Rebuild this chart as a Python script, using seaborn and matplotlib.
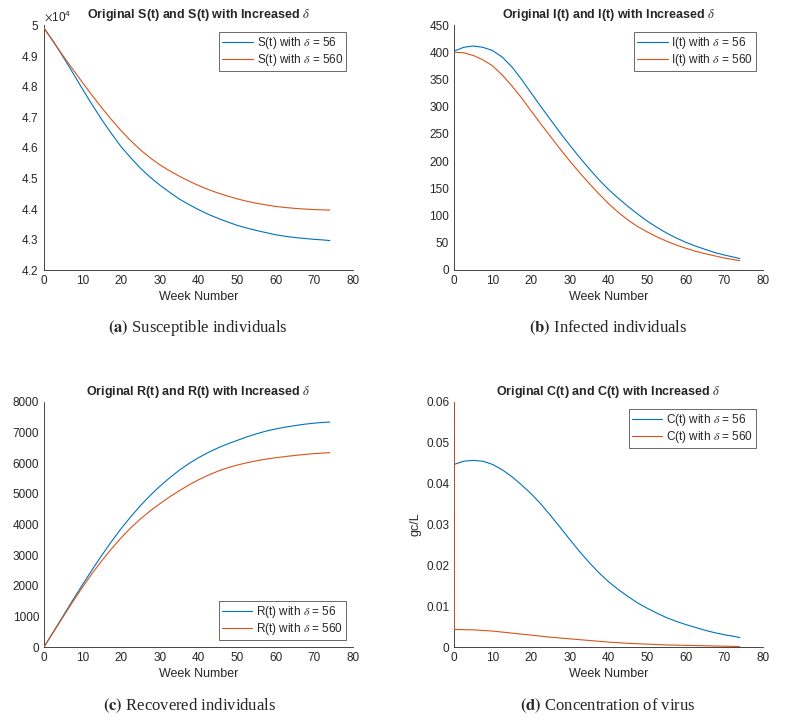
import numpy as np
import pandas as pd
import seaborn as sns
import matplotlib.pyplot as plt
from matplotlib.ticker import ScalarFormatter

# week numbers the curves were read at
weeks = [0, 2.5, 5, 7.5, 10, 12.5, 15, 17.5, 20, 22.5, 25, 27.5, 30, 32.5, 35, 37.5,
         40, 42.5, 45, 47.5, 50, 52.5, 55, 57.5, 60, 62.5, 65, 67.5, 70, 72.5, 74]

s_56 = [49900, 49450, 48950, 48430, 47900, 47390, 46900, 46450, 46020, 45660, 45320, 45030,
        44770, 44540, 44320, 44140, 43970, 43820, 43690, 43570, 43460, 43370, 43290, 43220,
        43150, 43100, 43060, 43030, 43000, 42980, 42960]
s_560 = [49900, 49435, 48985, 48545, 48115, 47695, 47290, 46905, 46545, 46215, 45920, 45660,
         45435, 45240, 45065, 44905, 44760, 44630, 44515, 44415, 44325, 44245, 44180, 44125,
         44075, 44040, 44012, 43990, 43973, 43961, 43956]

i_56 = [402, 409, 411.5, 409, 403, 391, 373, 350, 325, 300, 276, 252, 229, 207, 186, 166,
        148, 132, 117, 103, 90, 78.5, 68, 59, 51, 44, 38, 32, 27.5, 23.5, 21]
i_560 = [400, 399, 394, 386, 375, 358, 338, 316, 292, 268, 245, 222, 200, 179, 159, 140,
         122, 106, 92, 80, 70, 61, 53, 46, 40, 34.5, 30, 26, 22, 19, 17]

r_56 = [0, 510, 1025, 1540, 2040, 2530, 3000, 3450, 3870, 4260, 4620, 4950, 5250, 5520, 5770,
        5990, 6180, 6350, 6500, 6630, 6745, 6860, 6960, 7050, 7120, 7180, 7230, 7275, 7310,
        7335, 7345]
r_560 = [0, 500, 995, 1485, 1960, 2410, 2825, 3210, 3570, 3895, 4185, 4445, 4680, 4900, 5100,
         5290, 5460, 5610, 5740, 5850, 5940, 6015, 6080, 6135, 6180, 6220, 6255, 6288, 6315,
         6335, 6345]

c_56 = [0.0447, 0.0455, 0.0457, 0.0455, 0.0447, 0.0434, 0.0417, 0.0397, 0.0375, 0.035, 0.0322,
        0.0293, 0.0263, 0.0234, 0.0207, 0.0182, 0.0160, 0.0141, 0.0124, 0.0108, 0.0095, 0.0083,
        0.0072, 0.0063, 0.0055, 0.0048, 0.0041, 0.0035, 0.003, 0.0026, 0.0023]
# delta = 560 concentration starts far above the axis, then drops at once
c_560_weeks = [0, 0.08, 5, 10, 15, 20, 25, 30, 35, 40, 45, 50, 55, 60, 65, 70, 74]
c_560 = [0.08, 0.0043, 0.0042, 0.0039, 0.0034, 0.0029, 0.0024, 0.002, 0.0016, 0.0012, 0.0009,
         0.0007, 0.0005, 0.0004, 0.0003, 0.0002, 0.0001]

blue = '#0072BD'
orange = '#D95319'
grey = '#262626'


class TrimFormatter(ScalarFormatter):
    # matlab style: 5 rather than 5.0
    def __call__(self, x, pos=None):
        s = super().__call__(x, pos)
        return s.replace('5.0', '5')


def long_form(name, x1, y1, x2, y2):
    a = pd.DataFrame({'week': x1, 'value': y1, 'series': f'{name}(t) with $\\delta$ = 56'})
    b = pd.DataFrame({'week': x2, 'value': y2, 'series': f'{name}(t) with $\\delta$ = 560'})
    return pd.concat([a, b], ignore_index=True)


def style_axes(ax, name, ylim, yticks, legend_loc):
    ax.set_xlim(0, 80)
    ax.set_xticks(range(0, 81, 10))
    ax.set_ylim(*ylim)
    ax.set_yticks(yticks)
    ax.set_xlabel('Week Number', fontsize=9, color=grey, labelpad=3)
    ax.set_ylabel('')
    ax.set_title(f'Original {name}(t) and {name}(t) with Increased $\\delta$',
                 fontsize=9, fontweight='bold', pad=5)
    ax.tick_params(direction='in', length=3, labelsize=8.5, colors=grey, width=0.6)
    for side in ['top', 'right']:
        ax.spines[side].set_visible(False)
    for side in ['left', 'bottom']:
        ax.spines[side].set_color(grey)
        ax.spines[side].set_linewidth(0.6)
    for line in ax.get_lines():
        line.set_zorder(3)
    leg = ax.legend(loc=legend_loc, fontsize=8.5, frameon=True, fancybox=False,
                    handlelength=2.6, borderpad=0.25, labelspacing=0.1, handletextpad=0.3,
                    borderaxespad=0.6)
    leg.get_frame().set_edgecolor(grey)
    leg.get_frame().set_linewidth(0.6)


def main():
    sns.set_style('white')
    plt.rcParams['font.family'] = ['Liberation Sans', 'DejaVu Sans']
    plt.rcParams['mathtext.fontset'] = 'stix'

    fig = plt.figure(figsize=(7.85, 7.2), dpi=100)
    ax_s = fig.add_axes([44 / 785, 1 - 270 / 720, 309 / 785, 245 / 720])
    ax_i = fig.add_axes([454 / 785, 1 - 270 / 720, 309 / 785, 245 / 720])
    ax_r = fig.add_axes([44 / 785, 1 - 647 / 720, 309 / 785, 245 / 720])
    ax_c = fig.add_axes([454 / 785, 1 - 647 / 720, 309 / 785, 245 / 720])
    pal = [blue, orange]

    sns.lineplot(data=long_form('S', weeks, s_56, weeks, s_560), x='week', y='value',
                 hue='series', palette=pal, ax=ax_s, linewidth=0.8)
    style_axes(ax_s, 'S', (42000, 50000), np.arange(42000, 50001, 1000), 'upper right')
    fmt = TrimFormatter(useMathText=True)
    fmt.set_powerlimits((0, 0))
    ax_s.yaxis.set_major_formatter(fmt)
    ax_s.yaxis.get_offset_text().set_fontsize(8.5)
    ax_s.yaxis.get_offset_text().set_color(grey)

    sns.lineplot(data=long_form('I', weeks, i_56, weeks, i_560), x='week', y='value',
                 hue='series', palette=pal, ax=ax_i, linewidth=0.8)
    style_axes(ax_i, 'I', (0, 450), range(0, 451, 50), 'upper right')

    sns.lineplot(data=long_form('R', weeks, r_56, weeks, r_560), x='week', y='value',
                 hue='series', palette=pal, ax=ax_r, linewidth=0.8)
    style_axes(ax_r, 'R', (0, 8000), range(0, 8001, 1000), 'lower right')

    sns.lineplot(data=long_form('C', weeks, c_56, c_560_weeks, c_560), x='week', y='value',
                 hue='series', palette=pal, ax=ax_c, linewidth=0.8)
    style_axes(ax_c, 'C', (0, 0.06), np.arange(0, 0.061, 0.01), 'upper right')
    ax_c.set_yticklabels(['0', '0.01', '0.02', '0.03', '0.04', '0.05', '0.06'])
    ax_c.set_ylabel('gc/L', fontsize=9, color=grey, labelpad=3)

    captions = [(198, 328, 'a', 'Susceptible individuals'),
                (608, 328, 'b', 'Infected individuals'),
                (190, 706, 'c', 'Recovered individuals'),
                (608, 706, 'd', 'Concentration of virus')]
    for x, y, letter, text in captions:
        fig.text(x / 785, 1 - y / 720, f'$\\mathbf{{({letter})}}$ {text}',
                 ha='center', va='center', fontsize=12, family='Liberation Serif')

    fig.savefig('out.png', dpi=100, facecolor='white')


if __name__ == '__main__':
    main()
